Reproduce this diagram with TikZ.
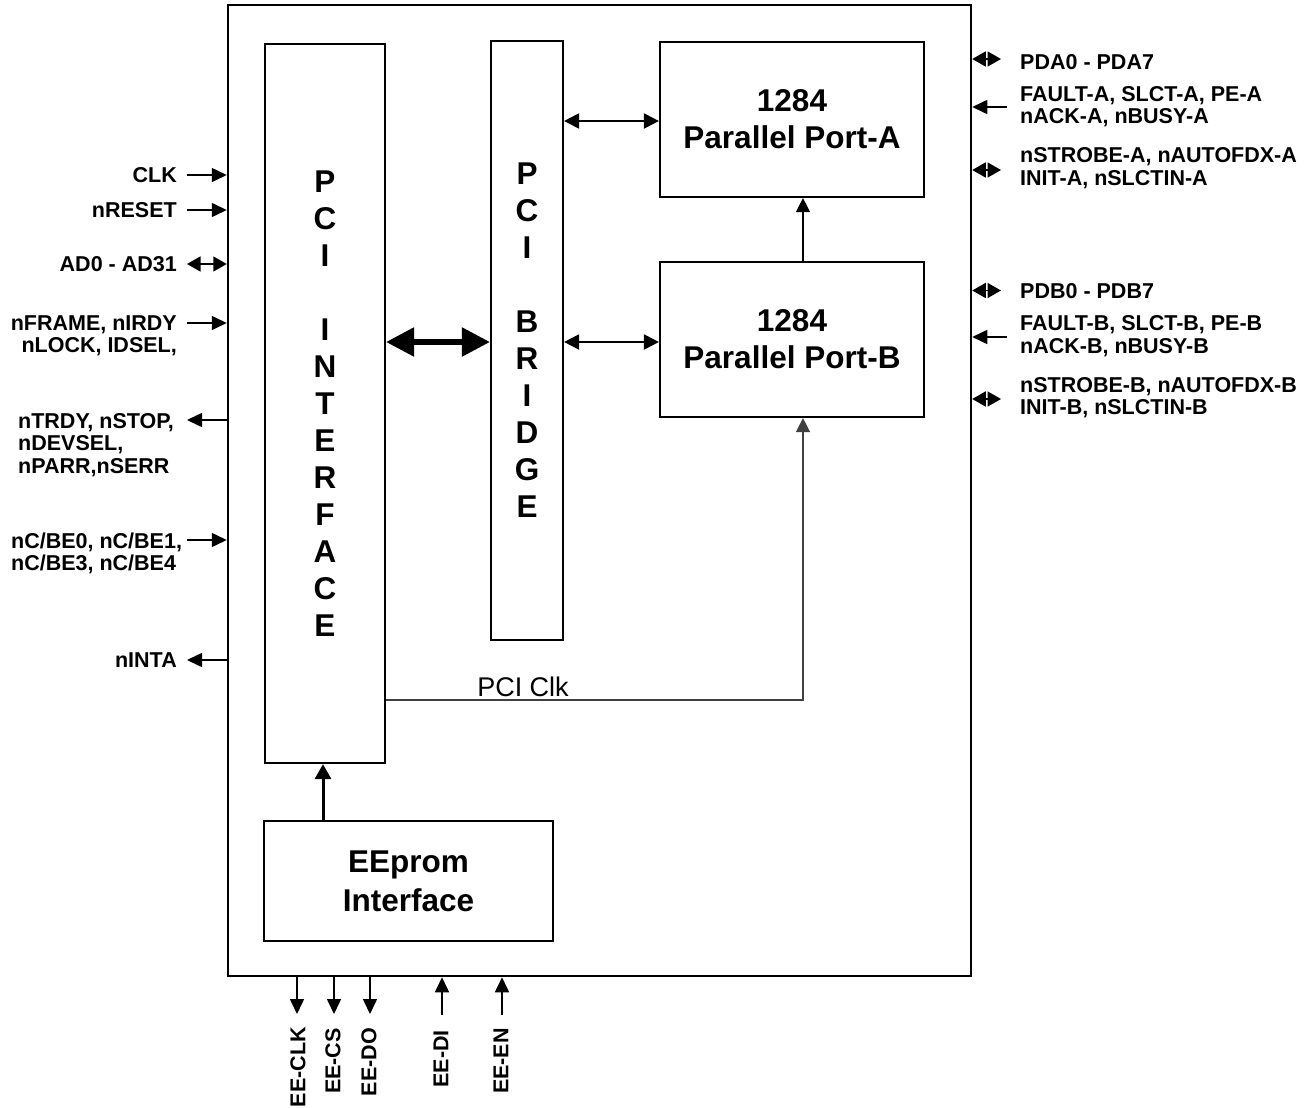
\documentclass[tikz,border=0pt]{standalone}
\usepackage{fontspec}
\setmainfont{Liberation Sans}
\usetikzlibrary{arrows.meta}
\begin{document}
\begin{tikzpicture}[x=1pt,y=-1pt,
  frame/.style={draw, line width=2.5pt, inner sep=0pt},
  blk/.style={draw, line width=2.2pt, inner sep=0pt, align=center, font=\fontsize{31.5}{37}\selectfont\bfseries},
  lbl/.style={inner sep=0pt, font=\fontsize{21.5}{22.5}\selectfont\bfseries},
  clklbl/.style={inner sep=0pt, font=\fontsize{27}{30}\selectfont},
  insig/.style={line width=1.6pt, -{Triangle[length=15pt,width=14pt]}},
  bisig/.style={line width=1.6pt, {Triangle[length=13.5pt,width=15pt]}-{Triangle[length=13.5pt,width=15pt]}},
  fatbus/.style={line width=5.5pt, {Triangle[length=28pt,width=28pt]}-{Triangle[length=28pt,width=28pt]}},
  medbus/.style={line width=2.2pt, {Triangle[length=15pt,width=15pt]}-{Triangle[length=15pt,width=15pt]}},
  thinarr/.style={line width=1.4pt, -{Triangle[length=14pt,width=14pt]}},
  eearr/.style={line width=3pt, -{Triangle[length=15pt,width=16pt]}}
]
\path[fill=white] (0,0) rectangle (1310,1103);

% main blocks
\node[frame, minimum width=743pt, minimum height=971pt] (outer) at (599.5,490.5) {};
\node[blk, minimum width=120pt, minimum height=719pt] (pci) at (325,403.5)
  {P\\C\\I\\\mbox{}\\I\\N\\T\\E\\R\\F\\A\\C\\E};
\node[blk, minimum width=72pt, minimum height=599pt] (bridge) at (527,340.5)
  {P\\C\\I\\\mbox{}\\B\\R\\I\\D\\G\\E};
\node[blk, minimum width=264pt, minimum height=155pt] (porta) at (792,119.5) {1284\\Parallel Port-A};
\node[blk, minimum width=264pt, minimum height=155pt] (portb) at (792,339.5) {1284\\Parallel Port-B};
\node[blk, minimum width=289pt, minimum height=120pt] (eeprom) at (408.5,881) {EEprom\\[2pt]Interface};

% internal connectors
\draw[fatbus] (pci.east |- 0,342) -- (bridge.west |- 0,342);
\draw[medbus] (bridge.east |- 0,121) -- (porta.west |- 0,121);
\draw[medbus] (bridge.east |- 0,342) -- (portb.west |- 0,342);
\draw[thinarr] (portb.north -| 803,0) -- (porta.south -| 803,0);
\draw[thinarr, black!75] (pci.east |- 0,700) -- (803,700) -- (portb.south -| 803,0);
\node[clklbl, anchor=base] (pciclk) at (523,696) {PCI Clk};
\draw[eearr] (eeprom.north -| 323,0) -- (pci.south -| 323,0);

% left signals
\coordinate (lclk) at (187,175);
\coordinate (lrst) at (187,210);
\coordinate (lad) at (187,264);
\coordinate (lfr) at (187,323);
\coordinate (ltr) at (187,420);
\coordinate (lcbe) at (187,540);
\coordinate (lint) at (187,660);
\draw[insig] (lclk) -- (outer.west |- lclk);
\draw[insig] (lrst) -- (outer.west |- lrst);
\draw[bisig] (lad) -- (outer.west |- lad);
\draw[insig] (lfr) -- (outer.west |- lfr);
\draw[insig] (outer.west |- ltr) -- (ltr);
\draw[insig] (lcbe) -- (outer.west |- lcbe);
\draw[insig] (outer.west |- lint) -- (lint);

\node[lbl, anchor=east] (tclk) at (177,175) {CLK};
\node[lbl, anchor=east] (trst) at (177,210) {nRESET};
\node[lbl, anchor=east] (tad) at (177,264) {AD0 - AD31};
\node[lbl, anchor=north east, align=right] (tfr) at (177,315.3) {nFRAME, nIRDY\\nLOCK, IDSEL,};
\node[lbl, anchor=north west, align=left] (ttr) at (18,413) {nTRDY, nSTOP,\\nDEVSEL,\\nPARR,nSERR};
\node[lbl, anchor=north west, align=left] (tcbe) at (11,532.3) {nC/BE0, nC/BE1,\\nC/BE3, nC/BE4};
\node[lbl, anchor=east] (tint) at (177,660) {nINTA};

% right signals
\coordinate (rpda) at (1001,59);
\coordinate (rfa) at (1007,107);
\coordinate (rsa) at (1001,170);
\coordinate (rpdb) at (1001,290.5);
\coordinate (rfb) at (1007,337);
\coordinate (rsb) at (1001,399);
\draw[bisig] (outer.east |- rpda) -- (rpda);
\draw[insig] (rfa) -- (outer.east |- rfa);
\draw[bisig] (outer.east |- rsa) -- (rsa);
\draw[bisig] (outer.east |- rpdb) -- (rpdb);
\draw[insig] (rfb) -- (outer.east |- rfb);
\draw[bisig] (outer.east |- rsb) -- (rsb);

\node[lbl, anchor=west] (tpda) at (1020,62) {PDA0 - PDA7};
\node[lbl, anchor=north west, align=left] (tfa) at (1020,86.2) {FAULT-A, SLCT-A, PE-A\\nACK-A, nBUSY-A};
\node[lbl, anchor=north west, align=left] (tsa) at (1020,147.7) {nSTROBE-A, nAUTOFDX-A\\INIT-A, nSLCTIN-A};
\node[lbl, anchor=west] (tpdb) at (1020,291.5) {PDB0 - PDB7};
\node[lbl, anchor=north west, align=left] (tfb) at (1020,315.5) {FAULT-B, SLCT-B, PE-B\\nACK-B, nBUSY-B};
\node[lbl, anchor=north west, align=left] (tsb) at (1020,377.2) {nSTROBE-B, nAUTOFDX-B\\INIT-B, nSLCTIN-B};

% bottom signals
\coordinate (bclk) at (297,1014);
\coordinate (bcs) at (334,1014);
\coordinate (bdo) at (370,1014);
\coordinate (bdi) at (442,1015);
\coordinate (ben) at (502,1015);
\draw[insig] (outer.south -| bclk) -- (bclk);
\draw[insig] (outer.south -| bcs) -- (bcs);
\draw[insig] (outer.south -| bdo) -- (bdo);
\draw[insig] (bdi) -- (outer.south -| bdi);
\draw[insig] (ben) -- (outer.south -| ben);

\node[lbl, rotate=90, anchor=east] (tbclk) at (298,1027) {EE-CLK};
\node[lbl, rotate=90, anchor=east] (tbcs) at (333,1028) {EE-CS};
\node[lbl, rotate=90, anchor=east] (tbdo) at (369,1028) {EE-DO};
\node[lbl, rotate=90, anchor=east] (tbdi) at (441,1030) {EE-DI};
\node[lbl, rotate=90, anchor=east] (tben) at (501,1028) {EE-EN};
\end{tikzpicture}
\end{document}
